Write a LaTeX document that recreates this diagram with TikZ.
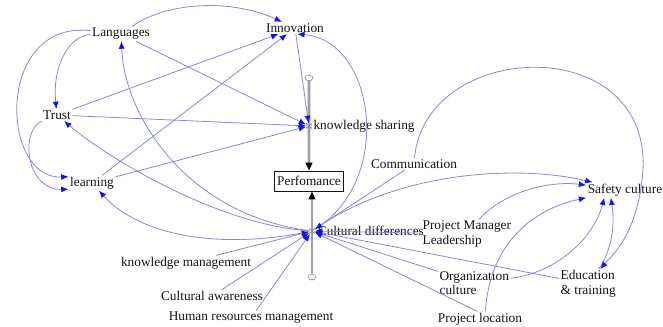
\documentclass[tikz,border=0pt]{standalone}
\usepackage{fontspec}
\setmainfont{Liberation Serif}
\usetikzlibrary{positioning,arrows.meta,shapes.symbols,backgrounds}
\definecolor{linkblue}{RGB}{135,135,232}
\definecolor{tipblue}{RGB}{20,20,225}
\definecolor{pipegray}{RGB}{160,160,160}
\definecolor{ink}{RGB}{20,20,20}

\begin{document}
\begin{tikzpicture}[
  x=0.75pt,y=-0.75pt,
  font=\fontsize{10}{10.8}\selectfont,
  var/.style={inner sep=1pt,align=left,text=ink},
  stock/.style={draw=ink,fill=white,inner xsep=2pt,inner ysep=0pt,minimum height=15pt,line width=0.6pt,text=ink},
  cloudnode/.style={cloud,cloud puffs=7,draw=gray,fill=white,minimum width=6pt,minimum height=5pt,inner sep=0pt},
  valve/.style={inner sep=0pt,minimum size=4pt,
    path picture={\draw[gray,line width=0.4pt] (path picture bounding box.north west) -- (path picture bounding box.south east)
      -- (path picture bounding box.north east) -- (path picture bounding box.south west) -- cycle;}},
  link/.style={draw=linkblue,line width=0.6pt,-{Latex[length=5.5pt,width=4.5pt,color=tipblue]}},
  pipe/.style={draw=pipegray,line width=2.2pt,-{Triangle[length=6pt,width=5pt,color=black]}},
]
\useasboundingbox (0,0) rectangle (663,327);
% ---- left cluster ----
\node[var] (lang)  at (121,34)  {Languages};
\node[var] (innov) at (295,28)  {Innovation};
\node[var] (trust) at (57,115)  {Trust};
\node[var] (learn) at (92,183)  {learning};
% ---- stock and flows ----
\node[cloudnode] (srcA) at (309,78) {};
\node[valve] (ksv) at (309,126) {};
\node[var,right=0pt of ksv] (ks) {knowledge sharing};
\node[stock] (perf) at (309,181) {Perfomance};
\node[valve] (cdv) at (312,231) {};
\node[var,right=1pt of cdv] (cd) {Cultural differences};
\node[cloudnode] (srcB) at (312,277) {};
\begin{scope}[on background layer]
\fill[white] (0,0) rectangle (663,327);
\draw[pipe] (srcA) -- (srcA |- perf.north);
\draw[pipe] (srcB) -- (srcB |- perf.south);
\end{scope}
% ---- right and bottom factors ----
\node[var] (comm)   at (414,164) {Communication};
\node[var] (safety) at (625,190) {Safety culture};
\node[var,anchor=west] (pml)  at (421,234) {Project Manager\\Leadership};
\node[var,anchor=west] (org)  at (438,283) {Organization\\culture};
\node[var,anchor=west] (edu)  at (559,284) {Education\\\& training};
\node[var] (ploc) at (480,319) {Project location};
\node[var] (km)   at (186,263) {knowledge management};
\node[var] (ca)   at (212,296) {Cultural awareness};
\node[var] (hrm)  at (251,318) {Human resources management};
% ---- links of the left cluster ----
\draw[link] (lang) .. controls (170,0) and (235,0) .. (innov);
\draw[link] (lang) .. controls (70,35) and (52,65) .. (trust);
\draw[link] (lang) .. controls (-5,20) and (0,180) .. (learn.165);
\draw[link] (trust) .. controls (20,130) and (25,190) .. (learn.195);
\draw[link] (lang) -- (ksv);
\draw[link] (trust) -- (innov);
\draw[link] (trust) -- (ksv);
\draw[link] (learn) -- (innov);
\draw[link] (learn) -- (ksv);
\draw[link] (innov) -- (ksv);
% cultural differences feeds back
\draw[link] (cdv) .. controls (190,215) and (125,120) .. (lang);
\draw[link] (cdv) .. controls (220,225) and (110,160) .. (trust);
\draw[link] (cdv) .. controls (220,250) and (140,236) .. (learn);
\draw[link] (cdv) .. controls (395,180) and (375,40) .. (innov.290);
\draw[link] (cdv) .. controls (400,170) and (520,165) .. (safety);
% ---- factors into cultural differences ----
\draw[link] (km) -- (cdv);
\draw[link] (ca) -- (cdv);
\draw[link] (hrm) -- (cdv);
\draw[link] (comm) -- (cdv);
\draw[link] (pml) -- (cdv);
\draw[link] (org) -- (cdv);
\draw[link] (edu) -- (cdv);
\draw[link] ([xshift=-2pt]ploc.north) -- (cdv);
% ---- safety culture ----
\draw[link] (pml) .. controls (500,195) and (545,180) .. (safety);
\draw[link] (org) .. controls (560,272) and (595,235) .. ([xshift=13.5pt]safety.south west);
\draw[link] ([xshift=4pt]ploc.north) .. controls (490,245) and (530,210) .. (safety.south west);
\draw[link] (edu) .. controls (612,250) and (615,225) .. ([xshift=18.5pt]safety.south west);
\draw[link] (comm) .. controls (425,40) and (650,30) .. (643,170) .. controls (638,235) and (612,255) .. (edu);
\end{tikzpicture}
\end{document}
